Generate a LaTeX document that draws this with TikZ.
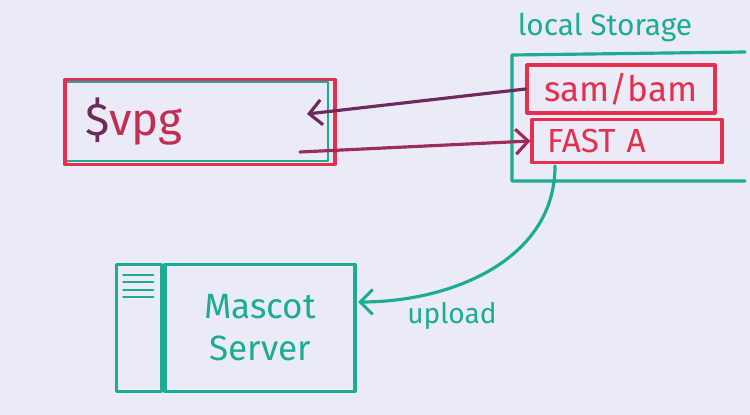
\documentclass[tikz,border=0pt]{standalone}
\usepackage{fontspec}
\setmainfont{Fira Sans}
\usetikzlibrary{positioning,arrows.meta}
\definecolor{boardbg}{RGB}{234,235,247}
\definecolor{markerred}{RGB}{228,48,78}
\definecolor{markerteal}{RGB}{28,172,148}
\definecolor{markerpurple}{RGB}{110,42,92}
\begin{document}
\begin{tikzpicture}[x=0.02cm, y=-0.02cm,
        pen/.style={line width=1.8pt, line cap=round, line join=round},
        redbox/.style={pen, draw=markerred, text=markerred},
        tealbox/.style={pen, draw=markerteal, text=markerteal}]
        \fill[boardbg] (0,0) rectangle (750,415);
        \useasboundingbox (0,0) rectangle (750,415);

        \draw[pen, markerteal, line width=1.4pt] (64,82) rectangle (328,161);
        \node(svpg) at (200,122)[redbox, minimum width=5.4cm, minimum height=1.7cm, inner xsep=0.4cm, text width=4.6cm, align=left, font=\fontsize{26}{30}\selectfont]{\textcolor{markerpurple}{\$}\textcolor{markerred!70!markerpurple}{vpg}};

        \node(Storage) at (605,27)[text=markerteal, font=\fontsize{17}{20}\selectfont]{local Storage};
        \draw[pen, markerteal] (745,52) -- (512,55) -- (512,181) -- (745,181);

        \node(sambam) at (621,89)[redbox, minimum width=3.76cm, minimum height=0.96cm, font=\fontsize{20}{24}\selectfont]{sam/bam};
        \node(fasta) at (627,141)[redbox, minimum height=0.86cm, inner xsep=0.3cm, text width=3.2cm, align=left, font=\fontsize{19}{23}\selectfont]{FAST A};

        \coordinate(svpgin) at (307,114);
        \coordinate(svpgout) at (300,152);
        \draw[pen, markerpurple, -{Straight Barb[length=2.5mm, width=5mm]}](sambam.west) -- (svpgin);
        \draw[pen, markerpurple!60!markerred, -{Straight Barb[length=2.5mm, width=5mm]}](svpgout) -- (fasta.west);

        \node(mascot) at (260,328)[tealbox, minimum width=3.8cm, minimum height=2.54cm, align=center, font=\fontsize{20}{24}\selectfont]{Mascot\\Server};
        \node(rack)[tealbox, left=0pt of mascot, minimum width=0.9cm, minimum height=2.54cm]{};
        \foreach \s in {0.24,0.38,0.54,0.68}
            \draw[pen, markerteal, line width=1.4pt] ([xshift=0.16cm, yshift=-\s cm]rack.north west) -- ++(0.6cm,0);

        \coordinate(uploadstart) at (555,166);
        \coordinate(mascotin) at (358,302);
        \draw[pen, markerteal, -{Straight Barb[length=2.5mm, width=5mm]}](uploadstart) to[out=-90, in=0] (mascotin);
        \node(upload) at (452,316)[text=markerteal, font=\fontsize{16}{19}\selectfont]{upload};

    \end{tikzpicture}
\end{document}
